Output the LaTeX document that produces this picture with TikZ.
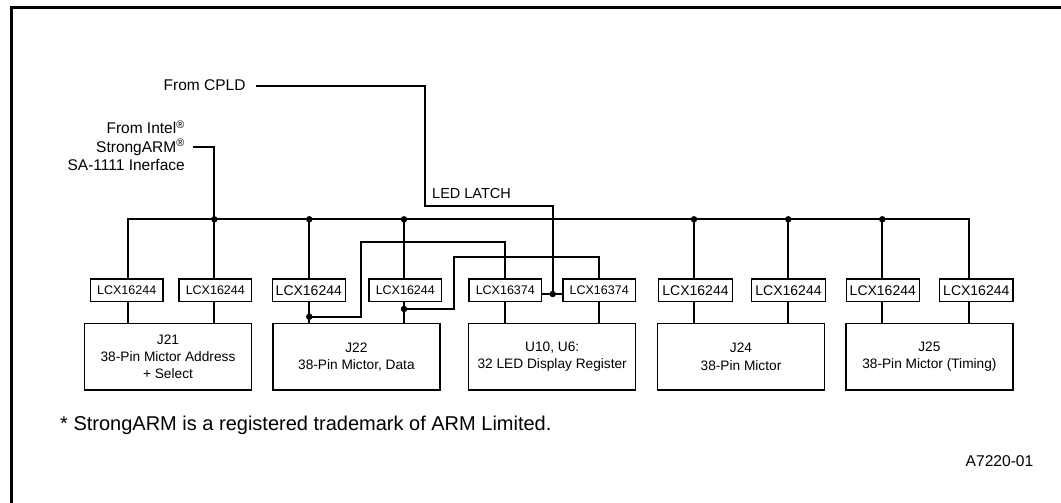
\documentclass[tikz,border=0pt]{standalone}
\usepackage{fontspec}
\setmainfont{Liberation Sans}
\newcommand{\regmark}{\textsuperscript{\textregistered}}

\begin{document}
\begin{tikzpicture}[x=1pt,y=-1pt,
    wire/.style={line width=2pt},
    jdot/.style={circle,fill=black,inner sep=0pt,minimum size=6.5pt},
    lcx/.style={draw,line width=1.2pt,minimum width=72.5pt,minimum height=22.7pt,inner xsep=6pt,inner ysep=0pt,font=\fontsize{12.5}{14}\selectfont},
    lcxbig/.style={lcx,inner xsep=3.6pt,font=\fontsize{14}{16}\selectfont},
    board/.style={draw,line width=1.2pt,minimum width=167pt,minimum height=66.3pt,align=center,font=\fontsize{13.7}{17.3}\selectfont},
    lbl/.style={inner sep=0pt,font=\fontsize{15.5}{18.7}\selectfont}]
    \useasboundingbox (0,0) rectangle (1061,503);
    % Frame
    \draw[line width=2.5pt] (11.5,503) -- (11.5,7.4) -- (1061,7.4);
    % Buffers
    \node[lcx] (b1) at (126.7,290.3) {LCX16244};
    \node[lcx] (b2) at (215.3,290.3) {LCX16244};
    \node[lcxbig] (b3) at (308.8,290.3) {LCX16244};
    \node[lcx] (b4) at (405.3,290.3) {LCX16244};
    \node[lcx] (b5) at (505.3,290.3) {LCX16374};
    \node[lcx] (b6) at (599.2,290.3) {LCX16374};
    \node[lcxbig] (b7) at (695.5,290.3) {LCX16244};
    \node[lcxbig] (b8) at (788.5,290.3) {LCX16244};
    \node[lcxbig] (b9) at (882.8,290.3) {LCX16244};
    \node[lcxbig] (b10) at (976.3,290.3) {LCX16244};
    % Connectors
    \node[board] (j21) at (168,356.9) {J21\\38-Pin Mictor Address\\+ Select};
    \node[board] (j22) at (356.4,356.9) {J22\\38-Pin Mictor, Data};
    \node[board] (u10) at (552.2,356.9) {U10, U6:\\32 LED Display Register};
    \node[board] (j24) at (741,356.9) {J24\\38-Pin Mictor};
    \node[board] (j25) at (929.4,356.9) {J25\\38-Pin Mictor (Timing)};
    % Inputs
    \node[lbl,anchor=east] (cpld) at (245.7,85) {From CPLD};
    \node[lbl,anchor=east,align=right] (intel) at (185,145.7) {From Intel\regmark\\StrongARM\regmark\\SA-1111 Inerface};
    \node[lbl,anchor=west,font=\fontsize{14.5}{16}\selectfont] (ledlatch) at (432,194) {LED LATCH};
    \coordinate (cpldin) at (256,85.7);
    \coordinate (intelin) at (192.7,147.3);
    % Bus and taps
    \coordinate (t1) at (127.7,219.3);
    \coordinate (t2) at (214.3,219.3);
    \coordinate (t3) at (309.3,219.3);
    \coordinate (t4) at (404,219.3);
    \coordinate (t7) at (694,219.3);
    \coordinate (t8) at (788.3,219.3);
    \coordinate (t9) at (882.3,219.3);
    \coordinate (t10) at (969.3,219.3);
    \draw[wire] (t1 |- b1.north) -- (t1) -- (t10) -- (t10 |- b10.north);
    \draw[wire] (intelin) -| (t2) -- (t2 |- b2.north);
    \foreach \t/\b in {t3/b3,t4/b4,t7/b7,t8/b8,t9/b9}
        \draw[wire] (\t) -- (\t |- \b.north);
    \foreach \t in {t2,t3,t4,t7,t8,t9}
        \node[jdot] at (\t) {};
    % Buffer outputs
    \draw[wire] (t1 |- b1.south) -- (t1 |- j21.north);
    \draw[wire] (t2 |- b2.south) -- (t2 |- j21.north);
    \draw[wire] (t3 |- b3.south) -- (t3 |- j22.north);
    \draw[wire] (t4 |- b4.south) -- (t4 |- j22.north);
    \draw[wire] (b5.south) -- (b5.south |- u10.north);
    \draw[wire] (b6.south) -- (b6.south |- u10.north);
    \draw[wire] (t7 |- b7.south) -- (t7 |- j24.north);
    \draw[wire] (t8 |- b8.south) -- (t8 |- j24.north);
    \draw[wire] (t9 |- b9.south) -- (t9 |- j25.north);
    \draw[wire] (t10 |- b10.south) -- (t10 |- j25.north);
    % Data to the display registers
    \coordinate (da) at (309.3,316.7);
    \coordinate (db) at (404,309);
    \draw[wire] (da) -| (361,241.7) -| (b5.north);
    \draw[wire] (db) -| (454.3,256.7) -| (b6.north);
    \node[jdot] at (da) {};
    \node[jdot] at (db) {};
    % LED latch
    \coordinate (latch) at (552.7,294);
    \draw[wire] (cpldin) -| (425.3,206) -| (latch);
    \draw[wire] (b5.east |- latch) -- (b6.west |- latch);
    \node[jdot] at (latch) {};
    % Notes
    \node[lbl,anchor=west,font=\fontsize{20}{24}\selectfont] (note) at (60,425) {* StrongARM is a registered trademark of ARM Limited.};
    \node[lbl,font=\fontsize{15.6}{18}\selectfont] (figno) at (999.5,461) {A7220-01};
\end{tikzpicture}
\end{document}
